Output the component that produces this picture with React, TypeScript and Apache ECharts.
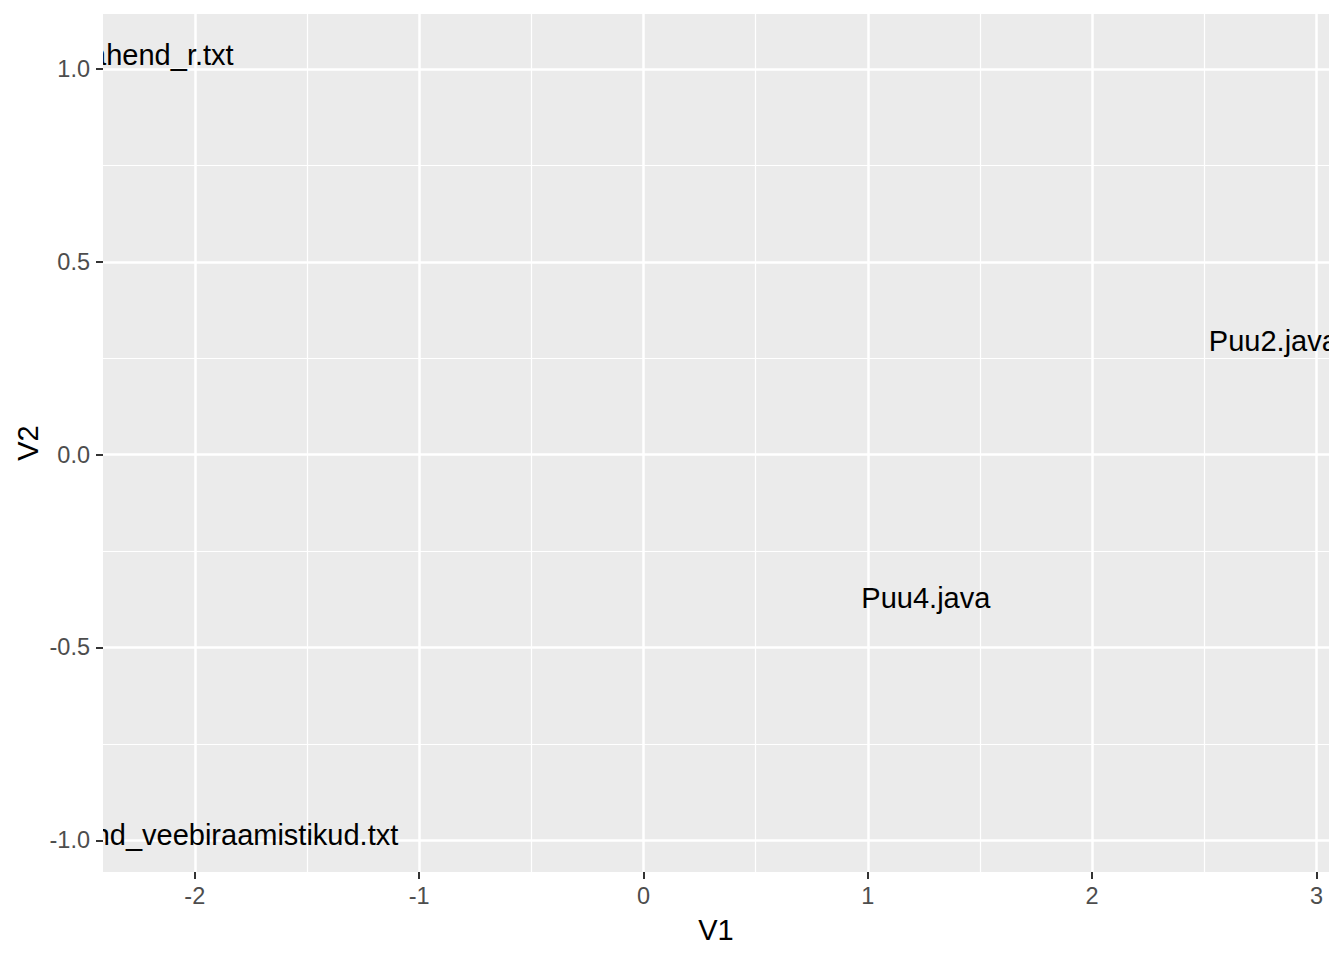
import React, { useEffect, useRef } from "react";
import * as echarts from "echarts";

// Data
const fileLabels = ["lahend_r.txt", "lahend_veebiraamistikud.txt", "Puu4.java", "Puu2.java"];
const v1Values = [-2.161, -1.894, 1.259, 2.808];
const v2Values = [1.0416, -0.981, -0.366, 0.301];

// Axis ticks / limits
const xMajorTicks = [-2, -1, 0, 1, 2, 3];
const xMinorTicks = [-1.5, -0.5, 0.5, 1.5, 2.5];
const yMajorTicks = [-1, -0.5, 0, 0.5, 1];
const yMinorTicks = [-0.75, -0.25, 0.25, 0.75];
const xLimits = [-2.409, 3.056];
const yLimits = [-1.0822, 1.1427];
const xTitle = "V1";
const yTitle = "V2";

const FONT = "'Liberation Sans', Arial, Helvetica, sans-serif";

export default function App() {
  const ref = useRef<HTMLDivElement>(null);
  useEffect(() => {
    if (!ref.current) return;
    const chart = echarts.init(ref.current, null, { renderer: "svg" });

    const majorAxisX = {
      type: "value",
      min: xLimits[0],
      max: xLimits[1],
      position: "bottom",
      axisLine: { show: false, onZero: false },
      axisTick: {
        show: true,
        length: 7,
        customValues: xMajorTicks,
        lineStyle: { color: "#333333", width: 2 },
      },
      axisLabel: {
        customValues: xMajorTicks,
        color: "#4D4D4D",
        fontSize: 23.5,
        fontFamily: FONT,
        margin: 12,
        formatter: (v: number) => String(v),
      },
      splitLine: { show: true, lineStyle: { color: "#FFFFFF", width: 2.5 } },
    };
    const minorAxisX = {
      type: "value",
      min: xLimits[0],
      max: xLimits[1],
      position: "bottom",
      axisLine: { show: false, onZero: false },
      axisTick: { show: false, customValues: xMinorTicks },
      axisLabel: { show: false, customValues: xMinorTicks },
      splitLine: { show: true, lineStyle: { color: "#FFFFFF", width: 1.2 } },
    };
    const majorAxisY = {
      type: "value",
      min: yLimits[0],
      max: yLimits[1],
      position: "left",
      axisLine: { show: false, onZero: false },
      axisTick: {
        show: true,
        length: 7,
        customValues: yMajorTicks,
        lineStyle: { color: "#333333", width: 2 },
      },
      axisLabel: {
        customValues: yMajorTicks,
        color: "#4D4D4D",
        fontSize: 23.5,
        fontFamily: FONT,
        margin: 13,
        formatter: (v: number) => v.toFixed(1),
      },
      splitLine: { show: true, lineStyle: { color: "#FFFFFF", width: 2.5 } },
    };
    const minorAxisY = {
      type: "value",
      min: yLimits[0],
      max: yLimits[1],
      position: "left",
      axisLine: { show: false, onZero: false },
      axisTick: { show: false, customValues: yMinorTicks },
      axisLabel: { show: false, customValues: yMinorTicks },
      splitLine: { show: true, lineStyle: { color: "#FFFFFF", width: 1.2 } },
    };

    chart.setOption({
      animation: false,
      backgroundColor: "#FFFFFF",
      grid: {
        left: 103,
        right: 15,
        top: 14,
        bottom: 88,
        show: true,
        backgroundColor: "#EBEBEB",
        borderWidth: 0,
      },
      xAxis: [minorAxisX, majorAxisX],
      yAxis: [minorAxisY, majorAxisY],
      graphic: [
        {
          type: "text",
          x: 716,
          y: 930,
          style: {
            text: xTitle,
            fontSize: 29,
            fontFamily: FONT,
            fill: "#000000",
            align: "center",
            verticalAlign: "middle",
          },
        },
        {
          type: "text",
          x: 28,
          y: 443,
          rotation: Math.PI / 2,
          style: {
            text: yTitle,
            fontSize: 29,
            fontFamily: FONT,
            fill: "#000000",
            align: "center",
            verticalAlign: "middle",
          },
        },
      ],
      series: [
        {
          type: "custom",
          coordinateSystem: "cartesian2d",
          xAxisIndex: 1,
          yAxisIndex: 1,
          clip: true,
          data: v1Values.map((x, i) => [x, v2Values[i]]),
          encode: { x: 0, y: 1 },
          renderItem: (params: any, api: any) => {
            const p = api.coord([api.value(0), api.value(1)]);
            return {
              type: "text",
              x: p[0],
              y: p[1] + 2,
              style: {
                text: fileLabels[params.dataIndex],
                fontSize: 29,
                fontFamily: FONT,
                fill: "#000000",
                align: "center",
                verticalAlign: "middle",
              },
            };
          },
        },
      ],
    });
    return () => chart.dispose();
  }, []);
  return (
    <div
      ref={ref}
      style={{ position: "absolute", left: 0, top: 0, width: 1344, height: 960 }}
    />
  );
}
